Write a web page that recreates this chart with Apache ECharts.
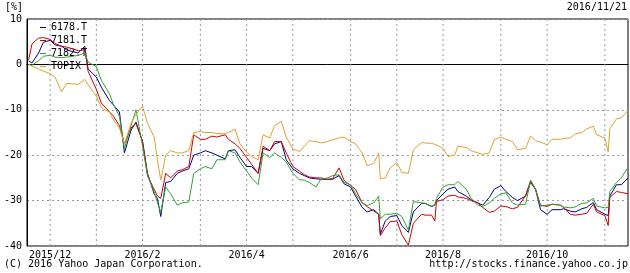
<!DOCTYPE html>
<html>
<head>
<meta charset="utf-8">
<script src="https://cdn.jsdelivr.net/npm/echarts@6/dist/echarts.min.js"></script>
<style>html,body{margin:0;padding:0;background:#fff;}#c{width:630px;height:273px;}</style>
</head>
<body>
<div id="c"></div>
<script>
const dates = ['2015-11-24','2015-11-26','2015-11-30','2015-12-03','2015-12-07','2015-12-10','2015-12-14','2015-12-17','2015-12-21','2015-12-24','2015-12-28','2015-12-30',
'2016-01-04','2016-01-07','2016-01-12','2016-01-14','2016-01-18','2016-01-21','2016-01-25','2016-01-28',
'2016-02-01','2016-02-04','2016-02-08','2016-02-10','2016-02-12','2016-02-15','2016-02-18','2016-02-22','2016-02-25','2016-02-29',
'2016-03-03','2016-03-07','2016-03-10','2016-03-14','2016-03-17','2016-03-22','2016-03-24','2016-03-28','2016-03-31',
'2016-04-04','2016-04-07','2016-04-11','2016-04-14','2016-04-18','2016-04-21','2016-04-25','2016-04-28',
'2016-05-02','2016-05-06','2016-05-09','2016-05-12','2016-05-16','2016-05-19','2016-05-23','2016-05-26','2016-05-30',
'2016-06-02','2016-06-06','2016-06-09','2016-06-13','2016-06-16','2016-06-20','2016-06-23','2016-06-24','2016-06-27','2016-06-30',
'2016-07-04','2016-07-07','2016-07-11','2016-07-14','2016-07-19','2016-07-21','2016-07-25','2016-07-27','2016-07-28',
'2016-08-01','2016-08-04','2016-08-08','2016-08-10','2016-08-15','2016-08-18','2016-08-22','2016-08-25','2016-08-29',
'2016-09-01','2016-09-05','2016-09-08','2016-09-12','2016-09-15','2016-09-20','2016-09-23','2016-09-26','2016-09-29',
'2016-10-03','2016-10-06','2016-10-11','2016-10-13','2016-10-17','2016-10-20','2016-10-24','2016-10-27','2016-10-31',
'2016-11-02','2016-11-07','2016-11-09','2016-11-10','2016-11-14','2016-11-17','2016-11-21'];

const s6178 = [0.8,0.3,2.5,4.9,5.3,4.3,4.0,3.2,2.8,2.5,4.0,-1.0,
-2.8,-5.0,-8.0,-8.8,-10.5,-19.5,-14.5,-12.7,
-17.0,-24.0,-28.5,-29.5,-33.5,-26.0,-25.8,-24.0,-23.5,-23.0,
-20.0,-19.5,-19.0,-19.5,-20.0,-20.8,-19.0,-18.8,-20.5,
-22.5,-22.5,-24.0,-18.5,-19.0,-17.5,-17.0,-21.0,
-23.0,-24.0,-24.5,-25.0,-25.2,-25.3,-25.3,-25.3,-24.5,
-26.3,-27.0,-29.0,-31.5,-32.5,-32.0,-33.0,-37.4,-34.5,-33.5,
-33.3,-35.5,-37.0,-32.5,-30.6,-30.6,-31.3,-31.0,-30.0,
-28.5,-27.5,-27.0,-28.0,-29.0,-29.8,-30.5,-31.0,-29.3,
-27.5,-26.7,-28.0,-29.3,-30.0,-29.0,-26.0,-27.5,-32.0,
-33.0,-32.0,-32.0,-31.8,-32.3,-32.5,-31.8,-31.5,-30.4,
-32.0,-33.0,-33.3,-29.0,-26.5,-26.5,-25.0];

const s7181 = [1.0,4.5,5.8,5.9,5.5,4.6,4.0,3.8,3.4,3.0,3.2,-1.5,
-5.5,-8.5,-10.5,-11.2,-13.5,-17.5,-14.0,-13.0,
-17.0,-24.5,-27.5,-29.0,-29.5,-24.0,-25.0,-23.5,-23.2,-22.5,
-15.5,-16.5,-16.5,-15.8,-16.0,-15.5,-16.5,-17.5,-18.5,
-20.5,-22.0,-24.0,-18.0,-19.0,-17.0,-17.0,-19.5,
-22.5,-23.5,-24.3,-24.8,-25.0,-25.0,-25.3,-25.2,-22.8,
-25.5,-26.7,-27.5,-30.5,-31.3,-32.3,-33.0,-37.7,-36.0,-34.6,
-34.5,-37.5,-39.8,-35.0,-33.0,-33.2,-33.2,-34.5,-30.2,
-29.8,-29.0,-28.8,-29.2,-29.5,-30.0,-30.5,-31.5,-32.6,
-32.3,-31.2,-31.3,-31.8,-31.5,-28.9,-25.6,-27.5,-31.0,
-31.3,-30.8,-31.0,-31.5,-33.0,-33.2,-33.0,-32.8,-30.8,
-32.5,-33.3,-35.5,-29.3,-28.0,-28.2,-28.5];

const s7182 = [0.0,-0.2,0.8,1.8,2.0,1.6,1.5,1.6,1.8,2.0,2.5,0.5,
-0.5,-3.5,-6.5,-8.5,-11.5,-18.5,-13.5,-10.0,
-18.0,-24.5,-28.0,-30.5,-32.5,-27.0,-28.5,-31.0,-30.5,-30.3,
-24.0,-23.0,-22.5,-23.0,-21.0,-21.0,-19.0,-19.5,-21.5,
-23.5,-25.0,-26.5,-19.5,-20.5,-19.5,-20.5,-21.5,
-24.0,-25.4,-25.5,-26.0,-27.0,-25.3,-25.0,-24.5,-24.3,
-26.0,-26.5,-28.5,-30.5,-31.1,-30.5,-29.0,-34.0,-33.0,-33.0,
-32.8,-33.5,-36.5,-30.2,-30.5,-30.6,-31.2,-31.0,-29.5,
-27.0,-26.5,-26.5,-25.8,-27.5,-29.5,-31.0,-31.3,-30.5,
-29.5,-28.5,-28.3,-30.5,-31.0,-30.8,-25.5,-27.5,-31.2,
-31.0,-30.8,-31.0,-31.4,-31.6,-31.4,-30.6,-30.5,-29.5,
-31.2,-31.6,-31.5,-28.0,-26.0,-25.0,-22.7];

const topix = [0.0,-0.4,-1.0,-1.5,-2.0,-2.8,-6.0,-4.2,-4.3,-4.4,-3.3,-4.5,
-7.0,-9.5,-10.5,-12.0,-14.0,-17.5,-13.0,-11.0,
-9.2,-13.0,-16.0,-21.0,-25.5,-20.0,-19.0,-19.5,-19.5,-19.0,
-15.0,-14.8,-15.0,-15.0,-15.2,-15.3,-15.0,-14.3,-17.5,
-19.3,-20.3,-21.0,-15.5,-16.2,-13.5,-12.5,-16.0,
-18.6,-19.2,-18.0,-16.8,-17.0,-17.3,-17.0,-16.6,-16.2,
-16.0,-17.0,-17.5,-19.5,-22.3,-21.8,-19.5,-25.2,-25.0,-22.8,
-21.6,-23.8,-24.0,-18.8,-17.2,-17.3,-17.4,-17.6,-17.8,
-18.5,-20.3,-20.0,-18.0,-18.3,-19.0,-19.5,-19.8,-19.5,
-16.6,-16.0,-16.5,-17.0,-18.8,-18.5,-15.8,-16.8,-17.1,
-17.7,-16.5,-16.5,-16.3,-16.2,-15.3,-15.0,-14.2,-13.6,
-15.5,-16.2,-19.3,-14.2,-12.0,-11.8,-10.1];

const gridDates = ['2015-12-07','2016-01-04','2016-02-01','2016-03-07','2016-04-04','2016-05-02','2016-06-06','2016-07-04','2016-08-01','2016-09-05','2016-10-03','2016-11-07'];
const labelDates = ['2015-12-07','2016-02-01','2016-04-04','2016-06-06','2016-08-01','2016-10-03'];
const labelTexts = ['2015/12','2016/2','2016/4','2016/6','2016/8','2016/10'];
const yTicks = [-40,-30,-20,-10,0,10];
const seriesNames = ['6178.T','7181.T','7182.T','TOPIX'];
const seriesColors = ['#000080','#cc0000','#33a033','#e0a030'];

const FONT = 'DejaVu Sans Mono';
const P = s => Date.UTC(+s.slice(0,4), +s.slice(5,7)-1, +s.slice(8,10));
const labelTs = labelDates.map(P);
const yMin = yTicks[0], yMax = yTicks[yTicks.length - 1];

const chart = echarts.init(document.getElementById('c'), null, {renderer:'canvas'});
const vals = [s6178, s7181, s7182, topix];
const series = vals.map((arr, k) => ({
  name: seriesNames[k], type: 'line', z: 3,
  data: dates.map((d, i) => [P(d), arr[i]]),
  showSymbol: false, symbol: 'none',
  lineStyle: {width: 1, color: seriesColors[k]}, itemStyle: {color: seriesColors[k]},
  animation: false
}));
// vertical dashed gridlines at the first Monday of each month (spanning the y range)
series.push({
  name: 'vgrid', type: 'line', z: 1, silent: true, animation: false,
  showSymbol: false, symbol: 'none', connectNulls: false,
  lineStyle: {type: [2, 3], color: '#999', width: 1},
  tooltip: {show: false},
  data: gridDates.flatMap(d => [[P(d), yMin], [P(d), yMax], [P(d), null]])
});

chart.setOption({
  animation: false,
  textStyle: {fontFamily: FONT},
  title: [
    {text: '[%]', left: 5, top: 2, padding: 0, textStyle: {fontSize: 10, fontWeight: 'normal', color: '#000', fontFamily: FONT}},
    {text: '2016/11/21', right: 3, top: 2, padding: 0, textStyle: {fontSize: 10, fontWeight: 'normal', color: '#000', fontFamily: FONT}},
    {text: '(C) 2016 Yahoo Japan Corporation.', left: 4, top: 259, padding: 0, textStyle: {fontSize: 10, fontWeight: 'normal', color: '#000', fontFamily: FONT}},
    {text: 'http://stocks.finance.yahoo.co.jp', right: 2, top: 259, padding: 0, textStyle: {fontSize: 10, fontWeight: 'normal', color: '#000', fontFamily: FONT}}
  ],
  legend: {
    data: seriesNames, orient: 'vertical', left: 40, top: 22, padding: 0, z: 1,
    icon: 'rect', itemWidth: 6, itemHeight: 1, itemGap: 2,
    textStyle: {fontSize: 10, color: '#000', fontFamily: FONT, lineHeight: 11},
    selectedMode: false
  },
  grid: {left: 27, right: 2, top: 19, bottom: 27, show: true, borderColor: '#000', borderWidth: 1, backgroundColor: 'transparent'},
  xAxis: {
    type: 'value', min: P('2015-11-23'), max: P('2016-11-21'),
    axisLine: {show: true, lineStyle: {color: '#000'}},
    axisTick: {show: false},
    splitLine: {show: false},
    axisLabel: {
      customValues: labelTs, margin: 4, color: '#000', fontSize: 10, fontFamily: FONT,
      formatter: v => { const i = labelTs.indexOf(v); return i >= 0 ? labelTexts[i] : ''; }
    }
  },
  yAxis: {
    type: 'value', min: yMin, max: yMax, interval: 10,
    axisLine: {show: true, lineStyle: {color: '#000'}},
    axisTick: {show: false},
    axisLabel: {color: '#000', fontSize: 10, fontFamily: FONT, margin: 5},
    splitLine: {show: true, lineStyle: {type: [2, 3], color: '#999', width: 1}}
  },
  series: series
});
</script>
</body>
</html>
